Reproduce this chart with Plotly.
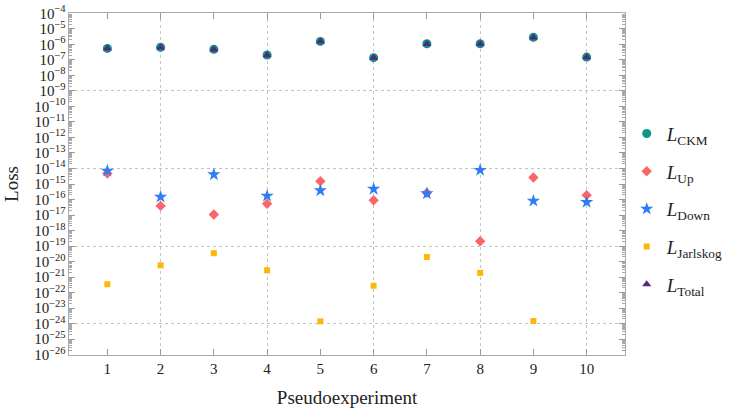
import plotly.graph_objects as go

experiments = [1, 2, 3, 4, 5, 6, 7, 8, 9, 10]

# log10 of the losses
log_ckm = [-6.26, -6.19, -6.32, -6.69, -5.81, -6.86, -5.96, -5.96, -5.55, -6.82]
log_up = [-14.32, -16.41, -16.97, -16.28, -14.82, -16.05, -15.57, -18.69, -14.58, -15.72]
log_down = [-14.15, -15.83, -14.39, -15.77, -15.42, -15.32, -15.61, -14.11, -16.09, -16.17]
log_jarlskog = [-21.46, -20.24, -19.46, -20.56, -23.85, -21.56, -19.70, -20.73, -23.83, None]
log_total = [-6.27, -6.20, -6.33, -6.70, -5.82, -6.87, -5.97, -5.97, -5.56, -6.83]

def to_lin(vals):
    return [None if v is None else 10 ** v for v in vals]

series = [
    ("<i>L</i><sub>CKM</sub>", log_ckm, "circle", "#0e9488", 9),
    ("<i>L</i><sub>Up</sub>", log_up, "diamond", "#fb6468", 8),
    ("<i>L</i><sub>Down</sub>", log_down, "star", "#2e7cf6", 10),
    ("<i>L</i><sub>Jarlskog</sub>", log_jarlskog, "square", "#fbb80a", 6),
    ("<i>L</i><sub>Total</sub>", log_total, "triangle-up", "#55287f", 8),
]

FONT = "Liberation Serif"
yrange = [-26.02, -3.98]
xrange = [0.28, 10.72]

fig = go.Figure()
for i, (name, vals, sym, col, size) in enumerate(series):
    fig.add_trace(go.Scatter(
        x=experiments, y=to_lin(vals), mode="markers", name=name,
        legendgroup=str(i),
        marker=dict(symbol=sym, color=col, size=size, line=dict(width=0)),
    ))

# empty trace so the grid-only overlay axes get drawn
fig.add_trace(go.Scatter(x=[], y=[], xaxis="x2", yaxis="y2", showlegend=False))

fig.update_layout(
    width=733, height=415,
    margin=dict(l=69, r=108, t=13, b=60, autoexpand=False),
    plot_bgcolor="white", paper_bgcolor="white",
    font=dict(family=FONT, color="#222222"),
    showlegend=True,
    legend=dict(
        xref="container", yref="container",
        x=0.855, y=0.496, xanchor="left", yanchor="middle",
        font=dict(size=19, family=FONT),
        tracegroupgap=10, traceorder="grouped",
    ),
    xaxis=dict(
        type="linear", range=xrange, tickmode="array", tickvals=experiments,
        showgrid=False, ticks="inside", ticklen=6, tickcolor="#999999",
        showline=True, linecolor="#aaaaaa", linewidth=1, mirror="ticks",
        zeroline=False, tickfont=dict(size=15), automargin=False,
        title=dict(text="Pseudoexperiment", font=dict(size=19), standoff=14),
    ),
    yaxis=dict(
        type="log", range=yrange, dtick=1, exponentformat="power",
        showgrid=False, ticks="inside", ticklen=6, tickcolor="#999999",
        showline=True, linecolor="#aaaaaa", linewidth=1, mirror="ticks",
        tickfont=dict(size=12), automargin=False, ticklabeloverflow="allow",
        minor=dict(ticks="inside", ticklen=3, tickcolor="#aaaaaa", dtick="D1"),
        title=dict(text="Loss", font=dict(size=19), standoff=10),
    ),
    xaxis2=dict(
        type="linear", overlaying="x", range=xrange, tickmode="array",
        tickvals=[2, 4, 6, 8, 10],
        showgrid=True, gridcolor="#c4c4c4", griddash="dot", gridwidth=1,
        showticklabels=False, ticks="", showline=False, zeroline=False,
    ),
    yaxis2=dict(
        overlaying="y", type="log", range=yrange, tickmode="array",
        tickvals=[1e-4, 1e-9, 1e-14, 1e-19, 1e-24],
        showgrid=True, gridcolor="#c4c4c4", griddash="dot", gridwidth=1,
        showticklabels=False, ticks="", showline=False, zeroline=False,
    ),
)

# drop the default 8px body margin so the figure fills the window
fig.write_html("out.html", config={"displayModeBar": False},
               post_script="document.body.style.margin='0';")
